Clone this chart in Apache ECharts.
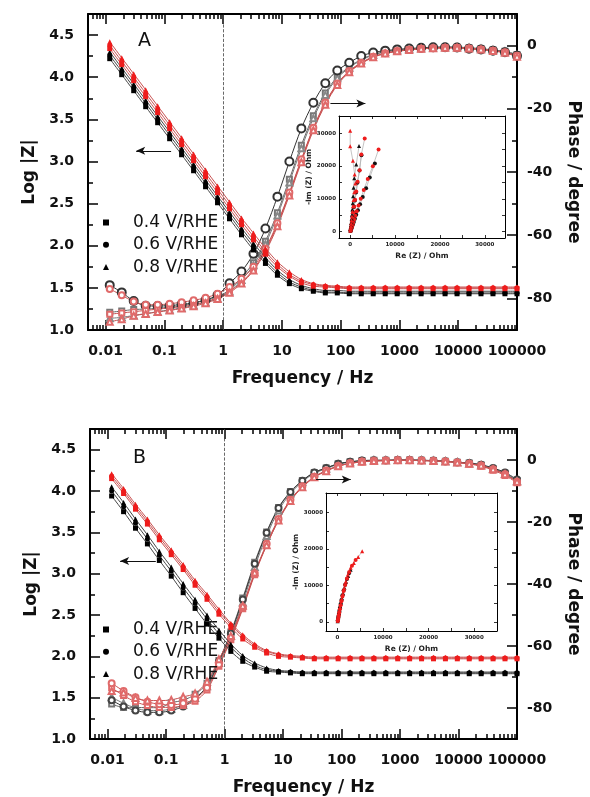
<!DOCTYPE html>
<html><head><meta charset="utf-8">
<script src="https://cdn.jsdelivr.net/npm/echarts@6/dist/echarts.min.js"></script>
<style>html,body{margin:0;padding:0;background:#fff}#c{width:590px;height:797px}</style>
</head><body><div id="c"></div>
<script>
// ---------- data ----------
const freqHz = [0.01175,0.01879,0.03005,0.04803,0.07679,0.1228,0.1963,0.3138,0.5017,0.802,1.282,2.05,3.277,5.24,8.377,13.39,21.41,34.23,54.73,87.5,139.9,223.7,357.6,571.7,914,1461,2336,3735,5971,9546,15260,24400,39010,62370,100000];
const freqTickLogs = [-2,-1,0,1,2,3,4,5];
const freqTickLabels = ['0.01','0.1','1','10','100','1000','10000','100000'];
const logZTicks = [1.0,1.5,2.0,2.5,3.0,3.5,4.0,4.5];
const logZMinorTicks = [1.25,1.75,2.25,2.75,3.25,3.75,4.25];
const phaseTicks = [-80,-60,-40,-20,0];
const phaseMinorTicks = [-70,-50,-30,-10];
const nyqTicks = [0,5000,10000,15000,20000,25000,30000];
const nyqLabelTicks = [0,10000,20000,30000];
const legendNames = ['0.4 V/RHE','0.6 V/RHE','0.8 V/RHE'];

// Panel A : log|Z|
const zA_04b = [4.22,4.03,3.84,3.65,3.46,3.27,3.08,2.89,2.70,2.51,2.32,2.13,1.95,1.79,1.65,1.55,1.49,1.46,1.44,1.44,1.43,1.43,1.43,1.43,1.43,1.43,1.43,1.43,1.43,1.43,1.43,1.43,1.43,1.43,1.43];
const zA_06b = [4.26,4.07,3.88,3.69,3.50,3.31,3.12,2.93,2.74,2.55,2.36,2.17,1.99,1.82,1.68,1.57,1.51,1.47,1.45,1.45,1.44,1.44,1.44,1.44,1.44,1.44,1.44,1.44,1.44,1.44,1.44,1.44,1.44,1.44,1.44];
const zA_08b = [4.30,4.11,3.92,3.73,3.54,3.35,3.16,2.97,2.78,2.59,2.40,2.21,2.03,1.86,1.71,1.60,1.53,1.49,1.47,1.47,1.46,1.46,1.46,1.46,1.46,1.46,1.46,1.46,1.46,1.46,1.46,1.46,1.46,1.46,1.46];
const zA_04r = [4.34,4.15,3.96,3.77,3.58,3.39,3.20,3.01,2.82,2.63,2.44,2.25,2.07,1.90,1.75,1.64,1.56,1.52,1.51,1.50,1.49,1.49,1.49,1.49,1.49,1.49,1.49,1.49,1.49,1.49,1.49,1.49,1.49,1.49,1.49];
const zA_06r = [4.38,4.19,4.00,3.81,3.62,3.43,3.24,3.05,2.86,2.67,2.48,2.29,2.11,1.93,1.78,1.66,1.58,1.54,1.52,1.51,1.50,1.50,1.50,1.50,1.50,1.50,1.50,1.50,1.50,1.50,1.50,1.50,1.50,1.50,1.50];
const zA_08r = [4.42,4.23,4.04,3.85,3.66,3.47,3.28,3.09,2.90,2.71,2.52,2.33,2.15,1.97,1.81,1.69,1.60,1.55,1.53,1.52,1.51,1.51,1.51,1.51,1.51,1.51,1.51,1.51,1.51,1.51,1.51,1.51,1.51,1.51,1.51];
// Panel A : phase
const pA_04b = [-84.4,-84.0,-83.5,-83.4,-83.1,-82.8,-82.4,-81.5,-80.5,-79.5,-77.3,-73.4,-68.7,-61.9,-52.9,-42.3,-31.5,-22.2,-15.0,-9.9,-6.7,-4.4,-2.8,-1.9,-1.4,-1.1,-0.8,-0.6,-0.5,-0.5,-0.7,-1.0,-1.4,-1.8,-2.8];
const pA_06b = [-75.8,-78.1,-80.8,-82.3,-82.4,-82.3,-81.9,-81.4,-80.5,-78.9,-75.2,-71.5,-65.9,-57.9,-47.8,-36.7,-26.2,-18.1,-11.9,-7.9,-5.4,-3.3,-2.2,-1.6,-1.2,-0.9,-0.7,-0.5,-0.5,-0.6,-1.0,-1.2,-1.6,-2.1,-3.2];
const pA_08b = [-86.3,-86.0,-85.4,-84.8,-84.2,-83.6,-83.0,-82.2,-81.2,-80.0,-77.8,-74.2,-69.5,-62.8,-53.8,-43.3,-32.5,-23.0,-15.6,-10.3,-7.0,-4.6,-3.0,-2.0,-1.5,-1.1,-0.8,-0.6,-0.5,-0.5,-0.7,-1.0,-1.4,-1.9,-3.0];
const pA_04r = [-85.0,-84.6,-84.2,-83.8,-83.4,-83.0,-82.6,-82.0,-81.0,-79.8,-77.8,-74.9,-70.8,-64.8,-56.6,-46.8,-36.3,-26.3,-18.3,-12.2,-8.2,-5.6,-3.6,-2.5,-1.8,-1.3,-1.0,-0.8,-0.7,-0.7,-0.9,-1.2,-1.6,-2.2,-3.3];
const pA_06r = [-77.0,-79.0,-81.0,-82.0,-82.0,-81.7,-81.2,-80.6,-79.8,-78.5,-76.4,-73.8,-70.0,-64.2,-56.2,-46.5,-36.0,-26.0,-18.0,-12.0,-8.0,-5.4,-3.5,-2.4,-1.7,-1.3,-1.0,-0.8,-0.7,-0.7,-0.9,-1.2,-1.6,-2.1,-3.2];
const pA_08r = [-87.4,-86.6,-85.5,-84.9,-84.3,-83.8,-83.2,-82.5,-81.5,-80.2,-78.2,-75.3,-71.2,-65.3,-57.2,-47.4,-36.9,-26.8,-18.7,-12.5,-8.4,-5.7,-3.7,-2.5,-1.8,-1.4,-1.0,-0.8,-0.7,-0.7,-0.9,-1.2,-1.7,-2.3,-3.5];

// Panel B : log|Z|
const zB_04b = [3.94,3.75,3.55,3.36,3.16,2.97,2.77,2.58,2.39,2.22,2.06,1.94,1.87,1.82,1.81,1.80,1.79,1.79,1.79,1.79,1.79,1.79,1.79,1.79,1.79,1.79,1.79,1.79,1.79,1.79,1.79,1.79,1.79,1.79,1.79];
const zB_06b = [4.00,3.81,3.61,3.42,3.22,3.03,2.83,2.64,2.45,2.27,2.11,1.98,1.89,1.84,1.82,1.81,1.80,1.80,1.80,1.80,1.80,1.80,1.80,1.80,1.80,1.80,1.80,1.80,1.80,1.80,1.80,1.80,1.80,1.80,1.80];
const zB_08b = [4.05,3.86,3.66,3.47,3.27,3.08,2.88,2.69,2.50,2.32,2.15,2.01,1.92,1.86,1.83,1.82,1.81,1.81,1.81,1.81,1.81,1.81,1.81,1.81,1.81,1.81,1.81,1.81,1.81,1.81,1.81,1.81,1.81,1.81,1.81];
const zB_04r = [4.15,3.97,3.78,3.60,3.41,3.23,3.05,2.86,2.69,2.51,2.35,2.21,2.11,2.04,2.00,1.99,1.98,1.97,1.97,1.97,1.97,1.97,1.97,1.97,1.97,1.97,1.97,1.97,1.97,1.97,1.97,1.97,1.97,1.97,1.97];
const zB_06r = [4.18,4.00,3.81,3.63,3.44,3.26,3.08,2.89,2.72,2.54,2.38,2.24,2.13,2.06,2.02,2.00,1.99,1.98,1.98,1.98,1.98,1.98,1.98,1.98,1.98,1.98,1.98,1.98,1.98,1.98,1.98,1.98,1.98,1.98,1.98];
const zB_08r = [4.21,4.03,3.84,3.66,3.47,3.29,3.11,2.92,2.75,2.57,2.40,2.26,2.15,2.07,2.03,2.01,2.00,1.99,1.99,1.99,1.99,1.99,1.99,1.99,1.99,1.99,1.99,1.99,1.99,1.99,1.99,1.99,1.99,1.99,1.99];
// Panel B : phase
const pB_04b = [-78.7,-79.8,-79.8,-79.9,-79.9,-78.3,-77.5,-75.6,-72.0,-64.7,-55.5,-44.5,-33.0,-23.2,-15.3,-10.2,-6.6,-4.0,-2.6,-1.2,-0.6,-0.2,-0.1,-0.1,0,0,-0.1,-0.2,-0.4,-0.7,-1.0,-1.6,-2.8,-4.3,-6.6];
const pB_06b = [-77.5,-79.5,-80.8,-81.4,-81.4,-80.8,-79.5,-77.0,-73.0,-65.0,-56.0,-45.0,-33.5,-23.5,-15.5,-10.3,-6.7,-4.0,-2.6,-1.2,-0.6,-0.2,-0.1,-0.1,0,0,-0.1,-0.2,-0.4,-0.7,-1.0,-1.5,-2.6,-4.0,-6.3];
const pB_08b = [-76.5,-78.5,-80.0,-80.8,-80.8,-80.3,-79.0,-76.8,-73.0,-65.5,-56.8,-46.0,-34.5,-24.5,-16.3,-10.8,-7.0,-4.3,-2.8,-1.4,-0.7,-0.3,-0.1,-0.1,0,0,-0.1,-0.2,-0.4,-0.7,-1.1,-1.7,-2.9,-4.4,-6.8];
const pB_04r = [-73.5,-76.0,-78.0,-79.2,-79.8,-79.8,-79.2,-77.8,-74.2,-66.5,-58.0,-48.0,-37.0,-27.5,-19.3,-13.0,-8.6,-5.5,-3.5,-2.0,-1.1,-0.6,-0.3,-0.2,-0.1,-0.1,-0.2,-0.3,-0.5,-0.8,-1.3,-2.0,-3.3,-5.0,-7.3];
const pB_06r = [-72.0,-74.5,-76.5,-78.0,-78.8,-79.0,-78.5,-77.0,-73.5,-66.0,-57.5,-47.5,-36.5,-27.0,-19.0,-12.8,-8.5,-5.4,-3.4,-1.9,-1.0,-0.5,-0.3,-0.2,-0.1,-0.1,-0.2,-0.3,-0.5,-0.8,-1.2,-1.8,-3.0,-4.6,-7.0];
const pB_08r = [-74.5,-75.0,-76.8,-77.6,-77.6,-77.4,-76.4,-75.3,-71.5,-64.3,-56.8,-47.0,-36.3,-27.5,-19.5,-13.2,-8.8,-5.6,-3.6,-2.0,-1.1,-0.6,-0.3,-0.2,-0.1,-0.1,-0.2,-0.3,-0.5,-0.8,-1.2,-1.8,-3.0,-4.6,-7.0];

// Insets : Nyquist  [Re(Z), -Im(Z)] in Ohm
const nyA_08r = [[0,30800],[0,26050],[600,21600],[980,17450],[1130,14700],[900,12000],[750,9650],[600,7700],[480,6000],[380,4600],[300,3400],[230,2400],[170,1600],[120,1000],[80,550],[40,200]];
const nyA_08b = [[1960,26150],[1350,20500],[900,16230],[750,13400],[650,10800],[560,8600],[470,6700],[390,5100],[310,3800],[240,2700],[180,1800],[120,1100],[80,600],[40,250]];
const nyA_06r = [[3230,28400],[2480,23500],[2110,18750],[1650,15200],[1350,12200],[1100,9700],[900,7600],[720,5900],[560,4400],[430,3200],[320,2200],[230,1400],[150,800],[80,350]];
const nyA_06b = [[2500,23300],[2050,18600],[1600,14900],[1300,11900],[1050,9500],[850,7500],[680,5800],[530,4400],[400,3200],[300,2200],[210,1400],[140,800],[70,350]];
const nyA_04r = [[6320,25050],[5040,19970],[3910,16020],[3010,12670],[2350,10000],[1850,7900],[1450,6200],[1120,4800],[860,3650],[650,2700],[480,1900],[340,1250],[220,750],[120,350]];
const nyA_04b = [[5490,20800],[4360,16530],[3540,13200],[2800,10500],[2200,8300],[1720,6500],[1350,5100],[1050,3900],[800,2900],[600,2100],[430,1450],[290,900],[170,450],[80,150]];
const nyB_08r = [[5440,19400],[4560,17800],[3600,16150],[2900,14900],[2300,13000],[1850,11100],[1500,9300],[1200,7700],[950,6300],[750,5000],[580,3900],[440,2900],[320,2100],[220,1400],[140,800],[70,350]];
const nyB_06r = [[4000,17000],[3200,15400],[2600,13700],[2100,11900],[1700,10100],[1380,8500],[1100,7000],[880,5700],[690,4500],[530,3500],[400,2600],[290,1800],[200,1150],[120,600],[60,250]];
const nyB_08b = [[2900,14300],[2350,12600],[1900,11000],[1550,9400],[1250,7900],[1000,6500],[800,5300],[630,4200],[490,3200],[370,2400],[270,1700],[180,1050],[110,550],[50,200]];
const nyB_04b = [[2600,13400],[2100,11800],[1700,10200],[1380,8700],[1100,7300],[880,6000],[700,4900],[550,3900],[420,3000],[310,2200],[220,1500],[140,900],[80,450]];

// ---------- options ----------
const FONT = 'DejaVu Sans';
const X_MIN = -2.3, X_MAX = 5;
const minorLogs = [];
for (let n = -3; n <= 4; n++) for (let m = 2; m <= 9; m++) {
  const v = Math.log10(m) + n; if (v > X_MIN && v < X_MAX) minorLogs.push(v);
}
const RED = '#ee1c1c', RED_L = '#c85050', RED_O = '#e06a6a';
function xy(vals) { return freqHz.map((f, i) => [Math.log10(f), vals[i]]); }

function xAx(g, pos, major, labels, name) {
  return {type:'value', gridIndex:g, position:pos, min:X_MIN, max:X_MAX,
    axisLine:{show:major, onZero:false, lineStyle:{color:'#000', width:2}},
    axisTick:{show:true, inside:true, length:major?10:5, customValues:major?freqTickLogs:minorLogs, lineStyle:{color:'#000', width:1.5}},
    axisLabel:{show:labels, customValues:freqTickLogs, margin:14,
      formatter:v => freqTickLabels[freqTickLogs.indexOf(Math.round(v))],
      fontFamily:FONT, fontWeight:'bold', fontSize:14, color:'#111'},
    splitLine:{show:false},
    name:name||'', nameLocation:'middle', nameGap:40,
    nameTextStyle:{fontFamily:FONT, fontWeight:'bold', fontSize:17, color:'#111'}};
}
function yAx(g, pos, min, max, ticks, labels, name, fmt, nameGap, rot, margin, len) {
  return {type:'value', gridIndex:g, position:pos, min:min, max:max,
    axisLine:{show:labels, onZero:false, lineStyle:{color:'#000', width:2}},
    axisTick:{show:true, inside:true, length:len, customValues:ticks, lineStyle:{color:'#000', width:1.5}},
    axisLabel:{show:labels, customValues:ticks, margin:margin, formatter:fmt,
      fontFamily:FONT, fontWeight:'bold', fontSize:14, color:'#111'},
    splitLine:{show:false},
    name:name||'', nameLocation:'middle', nameGap:nameGap||0, nameRotate:rot||0,
    nameTextStyle:{fontFamily:FONT, fontWeight:'bold', fontSize:17, color:'#111'}};
}
const fmtN = v => String(Math.round(v));
function nyX(g, pos, labels, min, max) {
  return {type:'value', gridIndex:g, position:pos, min:min, max:max,
    axisLine:{onZero:false, lineStyle:{color:'#000', width:1}},
    axisTick:{inside:true, length:3, customValues:nyqTicks, lineStyle:{color:'#000', width:0.8}},
    axisLabel:{show:labels, customValues:nyqLabelTicks, margin:4, formatter:fmtN, fontFamily:FONT, fontWeight:'bold', fontSize:5.5, color:'#222'},
    splitLine:{show:false},
    name:labels?'Re (Z) / Ohm':'', nameLocation:'middle', nameGap:14,
    nameTextStyle:{fontFamily:FONT, fontWeight:'bold', fontSize:7.5, color:'#222'}};
}
function nyY(g, pos, labels, min, max) {
  return {type:'value', gridIndex:g, position:pos, min:min, max:max,
    axisLine:{onZero:false, lineStyle:{color:'#000', width:1}},
    axisTick:{inside:true, length:3, customValues:nyqTicks, lineStyle:{color:'#000', width:0.8}},
    axisLabel:{show:labels, customValues:nyqLabelTicks, margin:3, formatter:fmtN, fontFamily:FONT, fontWeight:'bold', fontSize:5.5, color:'#222'},
    splitLine:{show:false},
    name:labels?'-Im (Z) / Ohm':'', nameLocation:'middle', nameGap:26, nameRotate:90,
    nameTextStyle:{fontFamily:FONT, fontWeight:'bold', fontSize:7.5, color:'#222'}};
}
const fmtZ = v => v.toFixed(1);
const fmtP = v => String(Math.round(v));

const xAxis = [], yAxis = [];
[0,1].forEach(g => {
  xAxis.push(xAx(g,'bottom',true,true,'Frequency / Hz'), xAx(g,'bottom',false,false), xAx(g,'top',true,false), xAx(g,'top',false,false));
  yAxis.push(
    yAx(g,'left',1,4.75,logZTicks,true,'Log |Z|',fmtZ,50,90,14,10),
    yAx(g,'left',1,4.75,logZMinorTicks,false,'',null,0,0,0,5),
    yAx(g,'right',-90,10,phaseTicks,true,'Phase / degree',fmtP,48,-90,10,10),
    yAx(g,'right',-90,10,phaseMinorTicks,false,'',null,0,0,0,5));
});
xAxis.push(nyX(2,'bottom',true,-2500,34500), nyX(2,'top',false,-2500,34500), nyX(3,'bottom',true,-2500,35000), nyX(3,'top',false,-2500,35000));
yAxis.push(nyY(2,'left',true,-2000,35300), nyY(2,'right',false,-2000,35300), nyY(3,'left',true,-2500,35400), nyY(3,'right',false,-2500,35400));

function zS(name, g, vals, sym, color, lineColor) {
  return {type:'line', name:name, xAxisIndex:4*g, yAxisIndex:4*g, data:xy(vals), smooth:0.3,
    symbol:sym, symbolSize:5, showAllSymbol:true, z:5,
    lineStyle:{width:1, color:lineColor}, itemStyle:{color:color}};
}
function pS(g, vals, sym, size, color, lineColor) {
  return {type:'line', xAxisIndex:4*g, yAxisIndex:4*g+2, data:xy(vals), smooth:0.3,
    symbol:sym, symbolSize:size, showAllSymbol:true, z:3,
    lineStyle:{width:1, color:lineColor}, itemStyle:{color:color, borderWidth:1}};
}
function nS(g, data, sym, color) {
  return {type:'line', xAxisIndex:g===2?8:10, yAxisIndex:g===2?8:10, data:data,
    symbol:sym, symbolSize:4, z:6, lineStyle:{width:0.8, color:'#b5b5b5'}, itemStyle:{color:color}};
}
function arrow(from, to) {
  return [{coord:from, symbol:'none'}, {coord:to, symbol:'arrow', symbolSize:[6,9]}];
}
const mlBase = {silent:true, symbol:['none','none'], label:{show:false}, animation:false};

const series = [
  // Panel A phase
  Object.assign(pS(0,pA_04b,'emptyRect',5,'#777','#666'), {markLine:Object.assign({}, mlBase, {lineStyle:{type:'dashed', color:'#444', width:0.8}, data:[{xAxis:0}]})}),
  pS(0,pA_08b,'emptyTriangle',6,'#888','#777'),
  Object.assign(pS(0,pA_06b,'emptyCircle',8,'#333','#333'), {markLine:Object.assign({}, mlBase, {lineStyle:{type:'solid', color:'#111', width:1.2}, data:[arrow([1.825,-18.3],[2.42,-18.3])]})}),
  pS(0,pA_04r,'emptyRect',5,RED_O,RED_L),
  pS(0,pA_06r,'emptyCircle',6,RED_O,RED_L),
  pS(0,pA_08r,'emptyTriangle',6,RED_O,RED_L),
  // Panel A |Z|
  Object.assign(zS(legendNames[0],0,zA_04b,'rect','#000','#444'), {markLine:Object.assign({}, mlBase, {lineStyle:{type:'solid', color:'#111', width:1.2}, data:[arrow([-0.886,3.127],[-1.48,3.127])]})}),
  zS(legendNames[1],0,zA_06b,'circle','#000','#444'),
  zS(legendNames[2],0,zA_08b,'triangle','#000','#444'),
  zS(null,0,zA_04r,'rect',RED,RED_L),
  zS(null,0,zA_06r,'circle',RED,RED_L),
  zS(null,0,zA_08r,'triangle',RED,RED_L),
  // Panel B phase
  Object.assign(pS(1,pB_04b,'emptyRect',5,'#777','#666'), {markLine:Object.assign({}, mlBase, {lineStyle:{type:'dashed', color:'#444', width:0.8}, data:[{xAxis:0}]})}),
  pS(1,pB_08b,'emptyTriangle',6,'#888','#777'),
  Object.assign(pS(1,pB_06b,'emptyCircle',6,'#444','#333'), {markLine:Object.assign({}, mlBase, {lineStyle:{type:'solid', color:'#111', width:1.2}, data:[arrow([1.565,-6.3],[2.158,-6.3])]})}),
  pS(1,pB_04r,'emptyRect',5,RED_O,RED_L),
  pS(1,pB_06r,'emptyCircle',6,RED_O,RED_L),
  pS(1,pB_08r,'emptyTriangle',6,RED_O,RED_L),
  // Panel B |Z|
  Object.assign(zS(legendNames[0],1,zB_04b,'rect','#000','#444'), {markLine:Object.assign({}, mlBase, {lineStyle:{type:'solid', color:'#111', width:1.2}, data:[arrow([-1.175,3.152],[-1.785,3.152])]})}),
  zS(legendNames[1],1,zB_06b,'circle','#000','#444'),
  zS(legendNames[2],1,zB_08b,'triangle','#000','#444'),
  zS(null,1,zB_04r,'rect',RED,RED_L),
  zS(null,1,zB_06r,'circle',RED,RED_L),
  zS(null,1,zB_08r,'triangle',RED,RED_L),
  // Insets
  nS(2,nyA_04b,'circle','#111'), nS(2,nyA_04r,'circle',RED),
  nS(2,nyA_06b,'circle','#111'), nS(2,nyA_06r,'circle',RED),
  nS(2,nyA_08b,'triangle','#111'), nS(2,nyA_08r,'triangle',RED),
  nS(3,nyB_04b,'circle','#111'), nS(3,nyB_08b,'triangle','#111'),
  nS(3,nyB_06r,'circle',RED), nS(3,nyB_08r,'triangle',RED)
];
series.forEach(s => { if (s.name === null) delete s.name; });

function legendAt(top) {
  return {left:103, top:top, orient:'vertical', padding:0, itemWidth:6, itemHeight:6, itemGap:5.3,
    selectedMode:false,
    textStyle:{fontFamily:FONT, fontSize:17, color:'#111', padding:[0,0,0,19]},
    data:[{name:legendNames[0], icon:'rect'},{name:legendNames[1], icon:'circle'},{name:legendNames[2], icon:'triangle'}]};
}

const option = {
  animation:false,
  backgroundColor:'#fff',
  title:[
    {text:'A', left:133, top:27, textStyle:{fontFamily:FONT, fontSize:19, fontWeight:'normal', color:'#111'}},
    {text:'B', left:128, top:444, textStyle:{fontFamily:FONT, fontSize:19, fontWeight:'normal', color:'#111'}}
  ],
  legend:[legendAt(214), legendAt(621)],
  grid:[
    {left:88, top:14, width:431, height:316},
    {left:90, top:429, width:429, height:313},
    {left:339, top:116, width:166, height:122, show:true, backgroundColor:'#fff', borderWidth:0},
    {left:326, top:493, width:171, height:138, show:true, backgroundColor:'#fff', borderWidth:0}
  ],
  xAxis:xAxis, yAxis:yAxis, series:series
};
echarts.init(document.getElementById('c')).setOption(option);
</script></body></html>
